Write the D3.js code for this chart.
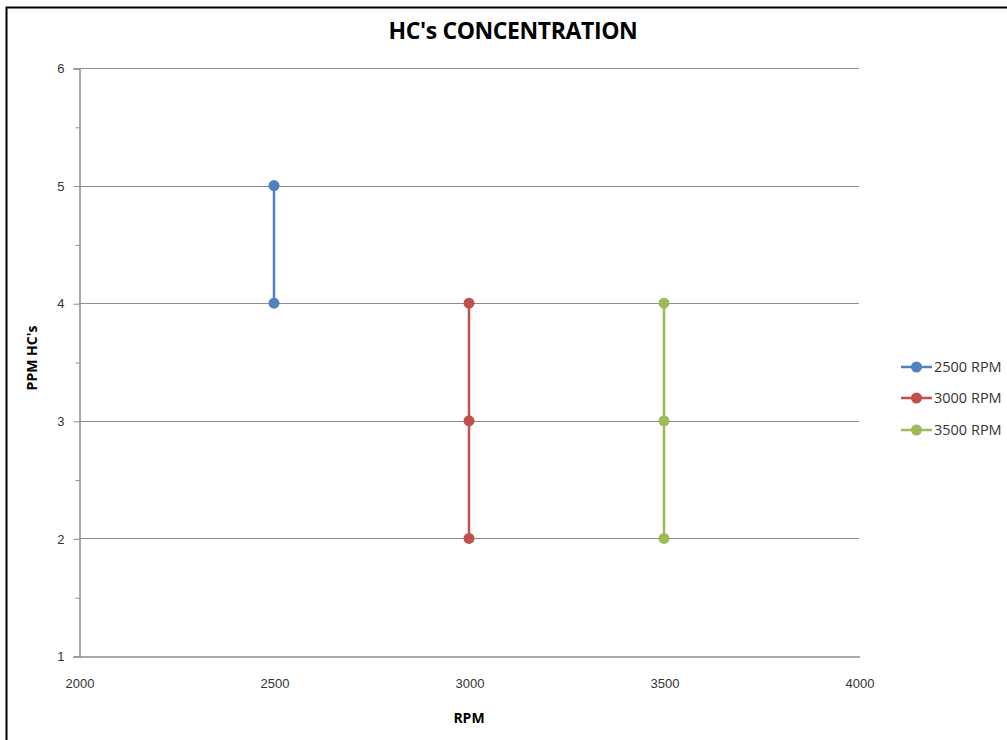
<!DOCTYPE html>
<html>
<head>
<meta charset="utf-8">
<script src="https://cdn.jsdelivr.net/npm/d3@7"></script>
<style>
  body { margin: 0; background: #fff; }
  svg { display: block; font-family: "Open Sans", "Noto Sans", sans-serif; }
  .tick-label { font-size: 13px; fill: #333; }
  .axis-title { font-size: 14px; font-weight: bold; fill: #000; }
  .legend-text { font-size: 14.5px; fill: #333; }
</style>
</head>
<body>
<svg id="chart" width="1007" height="740"></svg>
<script>
// data
const seriesNames = ["2500 RPM", "3000 RPM", "3500 RPM"];
const seriesColors = ["#4F81BD", "#C0504D", "#9BBB59"];
const rpm2500 = [{ x: 2500, y: 5 }, { x: 2500, y: 4 }];
const rpm3000 = [{ x: 3000, y: 4 }, { x: 3000, y: 3 }, { x: 3000, y: 2 }];
const rpm3500 = [{ x: 3500, y: 4 }, { x: 3500, y: 3 }, { x: 3500, y: 2 }];
const xTicks = [2000, 2500, 3000, 3500, 4000];
const yTicks = [1, 2, 3, 4, 5, 6];
const yMinorTicks = [1.5, 2.5, 3.5, 4.5, 5.5];

const seriesData = [rpm2500, rpm3000, rpm3500];

const svg = d3.select("#chart");
const margin = { top: 68, right: 148, bottom: 84, left: 79 };
const width = 1007;
const height = 740;

// chart border (Excel frame)
svg.append("rect")
    .attr("x", 6.5)
    .attr("y", 7.5)
    .attr("width", 1010)
    .attr("height", 760)
    .attr("fill", "none")
    .attr("stroke", "#000")
    .attr("stroke-width", 2);

const x = d3.scaleLinear()
    .domain([2000, 4000])
    .range([margin.left, width - margin.right]);

const y = d3.scaleLinear()
    .domain([1, 6])
    .range([height - margin.bottom, margin.top]);

// gridlines
svg.selectAll(".grid")
    .data(yTicks.filter(d => d > 1))
    .enter().append("line")
    .attr("x1", margin.left)
    .attr("x2", width - margin.right)
    .attr("y1", d => Math.round(y(d)) + 0.5)
    .attr("y2", d => Math.round(y(d)) + 0.5)
    .attr("stroke", "#8c8c8c")
    .attr("stroke-width", 1);

// y axis with major ticks
const yAxis = svg.append("g")
    .attr("transform", `translate(${margin.left + 0.5},0.5)`)
    .call(d3.axisLeft(y).tickValues(yTicks).tickSize(6).tickPadding(9).tickFormat(d3.format("d")));
yAxis.select(".domain").attr("stroke", "#8c8c8c").attr("stroke-width", 1.5);
yAxis.selectAll(".tick line").attr("stroke", "#8c8c8c");
yAxis.selectAll(".tick text").attr("class", "tick-label").attr("font-family", null).attr("font-size", null);

// minor ticks
const yMinor = svg.append("g")
    .attr("transform", `translate(${margin.left + 0.5},0.5)`)
    .call(d3.axisLeft(y).tickValues(yMinorTicks).tickSize(4).tickFormat(""));
yMinor.select(".domain").remove();
yMinor.selectAll(".tick line").attr("stroke", "#8c8c8c");

// x axis (no tick marks in reference)
const xAxis = svg.append("g")
    .attr("transform", `translate(0.5,${height - margin.bottom + 0.5})`)
    .call(d3.axisBottom(x).tickValues(xTicks).tickSize(0).tickPadding(22).tickFormat(d3.format("d")));
xAxis.select(".domain").attr("stroke", "#8c8c8c").attr("stroke-width", 1.5);
xAxis.selectAll(".tick text").attr("class", "tick-label").attr("font-family", null).attr("font-size", null);

// series lines and markers
const line = d3.line()
    .x(d => x(d.x))
    .y(d => y(d.y));

seriesData.forEach((data, i) => {
    svg.append("path")
        .datum(data)
        .attr("fill", "none")
        .attr("stroke", seriesColors[i])
        .attr("stroke-width", 2.5)
        .attr("d", line);

    svg.selectAll(".pt" + i)
        .data(data)
        .enter().append("circle")
        .attr("cx", d => x(d.x))
        .attr("cy", d => y(d.y))
        .attr("r", 5.5)
        .attr("fill", seriesColors[i]);
});

// title
svg.append("text")
    .attr("x", 513)
    .attr("y", 39)
    .attr("text-anchor", "middle")
    .attr("font-size", 23)
    .attr("font-weight", "bold")
    .attr("letter-spacing", -0.4)
    .attr("fill", "#000")
    .text("HC's CONCENTRATION");

// axis titles
svg.append("text")
    .attr("class", "axis-title")
    .attr("x", x(3000))
    .attr("y", 723)
    .attr("text-anchor", "middle")
    .text("RPM");

svg.append("text")
    .attr("class", "axis-title")
    .attr("transform", "translate(37,358) rotate(-90)")
    .attr("text-anchor", "middle")
    .text("PPM HC's");

// legend
const legendY = [367, 398, 430];
const legend = svg.selectAll(".legend")
    .data(seriesNames)
    .enter().append("g")
    .attr("transform", (d, i) => `translate(901,${legendY[i]})`);

legend.append("line")
    .attr("x1", 0).attr("x2", 31)
    .attr("y1", 0).attr("y2", 0)
    .attr("stroke", (d, i) => seriesColors[i])
    .attr("stroke-width", 2.5);

legend.append("circle")
    .attr("cx", 15.5).attr("cy", 0).attr("r", 5.5)
    .attr("fill", (d, i) => seriesColors[i]);

legend.append("text")
    .attr("class", "legend-text")
    .attr("x", 33)
    .attr("dy", "0.35em")
    .text(d => d);
</script>
</body>
</html>
